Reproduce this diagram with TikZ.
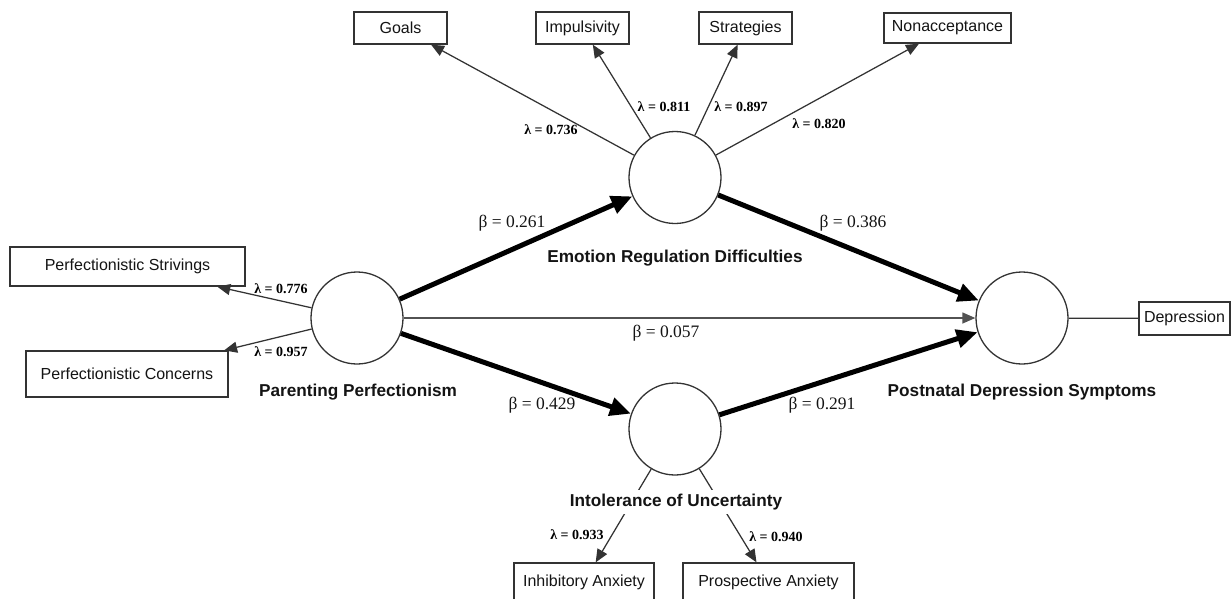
\documentclass[tikz,border=0pt]{standalone}
\usepackage{fontspec}
\setmainfont{Liberation Sans}
\newfontfamily\serifnum{Liberation Serif}
\usetikzlibrary{arrows.meta}
\definecolor{edge}{HTML}{333333}
\definecolor{ink}{HTML}{141414}
\begin{document}
\begin{tikzpicture}[x=1pt,y=-1pt,
  latent/.style={circle,draw=edge,line width=1.3pt,minimum size=92pt,inner sep=0pt,fill=white},
  indicator/.style={draw=edge,line width=1.3pt,inner sep=0pt,fill=white,text=ink,
    font=\fontsize{16}{18}\selectfont},
  lvname/.style={text=ink,font=\bfseries\fontsize{17.2}{20}\selectfont},
  loadlbl/.style={text=black,font=\serifnum\bfseries\fontsize{14}{16}\selectfont},
  pathlbl/.style={text=ink,font=\serifnum\fontsize{17.5}{20}\selectfont},
  load/.style={draw=edge,line width=1.25pt,-{Triangle[length=13pt,width=11pt]}},
  strong/.style={draw=black,line width=5pt,-{Triangle[length=21pt,width=18pt]}},
  weak/.style={draw=edge!85,line width=1.3pt,-{Triangle[length=13pt,width=11pt]}},
  plainlink/.style={draw=edge,line width=1.25pt},
]
\useasboundingbox (0,0) rectangle (1231,598);

% latent variables
\node[latent] (pp)  at (357,318)   {};
\node[latent] (erd) at (675,177.5) {};
\node[latent] (iu)  at (675,429)   {};
\node[latent] (pds) at (1022,318)  {};

% indicators
\node[indicator,minimum width=93pt,minimum height=32pt]  (goals)   at (400.5,28)   {Goals};
\node[indicator,minimum width=93pt,minimum height=32pt]  (imp)     at (582.5,28)   {Impulsivity};
\node[indicator,minimum width=93pt,minimum height=32pt]  (strat)   at (745.5,28)   {Strategies};
\node[indicator,minimum width=127pt,minimum height=30pt] (nonacc)  at (947.5,28)   {Nonacceptance};
\node[indicator,minimum width=235pt,minimum height=39pt] (strive)  at (127.5,266.5) {Perfectionistic Strivings};
\node[indicator,minimum width=202pt,minimum height=46pt] (concern) at (127,374)    {Perfectionistic Concerns};
\node[indicator,minimum width=91pt,minimum height=33pt]  (dep)     at (1184.5,318.5) {Depression};
\node[indicator,minimum width=140pt,minimum height=38pt] (inhib)   at (584,582)    {Inhibitory Anxiety};
\node[indicator,minimum width=171pt,minimum height=38pt] (prosp)   at (768.5,582)  {Prospective Anxiety};

% measurement paths
\draw[load] (pp) -- (strive);
\draw[load] (pp) -- (concern);
\draw[load] (erd) -- (goals);
\draw[load] (erd) -- (imp);
\draw[load] (erd) -- (strat);
\draw[load] (erd) -- (nonacc);
\draw[load] (iu) -- (inhib);
\draw[load] (iu) -- (prosp);
\draw[plainlink] (pds) -- (dep);

% structural paths
\draw[strong] (pp) -- (erd);
\draw[strong] (pp) -- (iu);
\draw[strong] (erd) -- (pds);
\draw[strong] (iu) -- (pds);
\draw[weak] (pp) -- (pds);

% construct names
\node[lvname] (ppname)  at (358,392)  {Parenting Perfectionism};
\node[lvname] (erdname) at (675,258)  {Emotion Regulation Difficulties};
\node[lvname,fill=white,inner xsep=2pt,inner ysep=4pt] (iuname) at (676,502) {Intolerance of Uncertainty};
\node[lvname] (pdsname) at (1022,392) {Postnatal Depression Symptoms};

% loadings
\node[loadlbl] (l1) at (281,289) {λ = 0.776};
\node[loadlbl] (l2) at (281,352) {λ = 0.957};
\node[loadlbl] (l3) at (551,130) {λ = 0.736};
\node[loadlbl] (l4) at (664,107) {λ = 0.811};
\node[loadlbl] (l5) at (741,107) {λ = 0.897};
\node[loadlbl] (l6) at (819,124) {λ = 0.820};
\node[loadlbl] (l7) at (577,535) {λ = 0.933};
\node[loadlbl] (l8) at (776,537) {λ = 0.940};

% path coefficients
\node[pathlbl] (b1) at (512,223) {β = 0.261};
\node[pathlbl] (b2) at (853,223) {β = 0.386};
\node[pathlbl] (b3) at (666,333) {β = 0.057};
\node[pathlbl] (b4) at (542,405) {β = 0.429};
\node[pathlbl] (b5) at (822,405) {β = 0.291};
\end{tikzpicture}
\end{document}
